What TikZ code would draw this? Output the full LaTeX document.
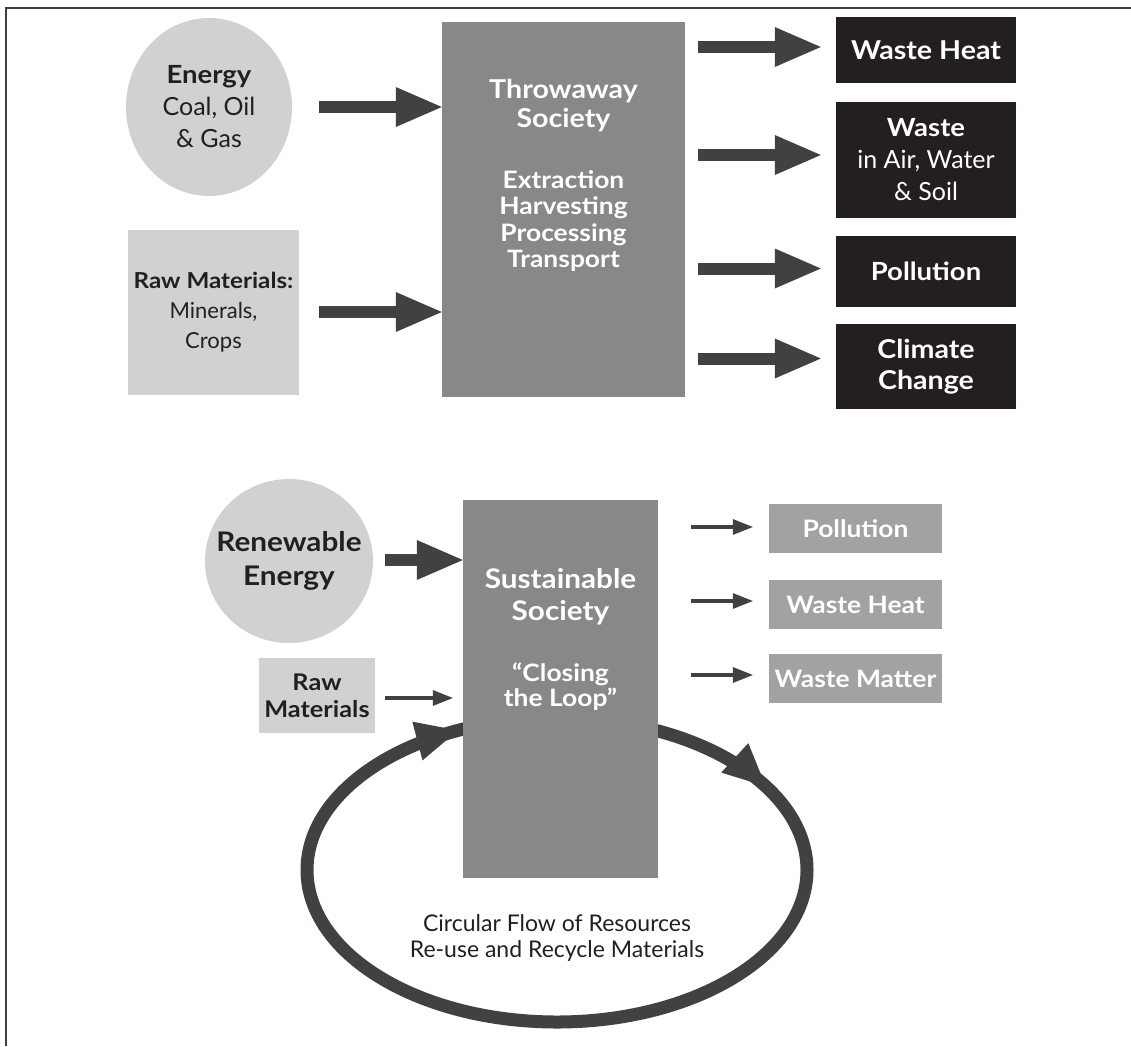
\documentclass[tikz,border=0pt]{standalone}
\usepackage{fontspec}
\setmainfont{Lato}[BoldFeatures={FakeStretch=1.1}]
\usetikzlibrary{shapes.geometric,arrows.meta,decorations.markings,calc}
\definecolor{lightg}{HTML}{D1D1D1}
\definecolor{midg}{HTML}{898886}
\definecolor{darkb}{HTML}{231F20}
\definecolor{arrowc}{HTML}{434140}
\definecolor{boxg}{HTML}{A3A2A1}
\definecolor{framec}{HTML}{3E3E3E}
\begin{document}
\begin{tikzpicture}[x=1pt,y=-1pt,
  lightell/.style={ellipse, fill=lightg, inner sep=0pt, align=center, text=darkb},
  lightbox/.style={rectangle, fill=lightg, inner sep=0pt, align=center, text=darkb},
  midbox/.style={rectangle, fill=midg, inner sep=0pt},
  intext/.style={text=white, align=center, inner sep=0pt},
  darktext/.style={text=darkb, align=center, inner sep=0pt},
  blackbox/.style={rectangle, fill=darkb, text=white, minimum width=180pt, inner sep=0pt, align=center, font=\bfseries\fontsize{26}{31}\selectfont},
  graybox/.style={rectangle, fill=boxg, text=white, minimum width=173pt, minimum height=49pt, inner sep=0pt, align=center, font=\bfseries\fontsize{24}{28}\selectfont},
  bigarrow/.style={draw=arrowc, line width=12pt, -{Triangle[length=46pt,width=40pt,line width=0pt]}},
  smallarrow/.style={draw=arrowc, line width=4pt, -{Triangle[length=20pt,width=16pt,line width=0pt]}},
  looptip/.style={arrowc},
  loopline/.style={draw=arrowc, line width=13pt}
]
\useasboundingbox (0,0) rectangle (1131,1046);

% frame
\draw[framec, line width=1.5pt] (1131,8) -- (6,8) -- (6,1046);

% ---------- upper part ----------
\node[lightell, minimum width=166pt, minimum height=178pt] (energy) at (209,107) {};
\node[darktext, font=\fontsize{25}{32}\selectfont] (energyt) at (energy.center) {\textbf{Energy}\\Coal, Oil\\\& Gas};
\node[lightbox, minimum width=171pt, minimum height=165pt, font=\fontsize{22}{30}\selectfont] (raw) at (213.5,312) {\textbf{Raw Materials:}\\Minerals,\\Crops};

\node[midbox, minimum width=243pt, minimum height=375pt] (throw) at (563.5,209.5) {};
\node[intext, font=\bfseries\fontsize{26}{29}\selectfont] (throwt) at (563.5,106) {Throwaway\\Society};
\node[intext, font=\bfseries\fontsize{24}{26.5}\selectfont] (throwp) at (563.5,221) {Extraction\\Harvesting\\Processing\\Transport};

\node[blackbox, minimum height=66pt] (wh) at (926,50) {Waste Heat};
\node[blackbox, minimum height=116pt, font=\fontsize{25}{32}\selectfont] (wa) at (926,160) {\textbf{Waste}\\in Air, Water\\\& Soil};
\node[blackbox, minimum height=71pt, font=\bfseries\fontsize{25}{31}\selectfont] (po) at (926,271.5) {Pollution};
\node[blackbox, minimum height=85pt] (cc) at (926,366.5) {Climate\\Change};

\draw[bigarrow] ($(energy.east)+(27,0)$) -- (throw.west |- energy.east);
\draw[bigarrow] ($(raw.east)+(20,0)$) -- (throw.west |- raw.east);

\draw[bigarrow] ($(throw.east |- wh.west)+(13,-3)$) -- ($(wh.west)+(-15,-3)$);
\draw[bigarrow] ($(throw.east |- wa.west)+(13,-5)$) -- ($(wa.west)+(-15,-5)$);
\draw[bigarrow] ($(throw.east |- po.west)+(13,-3)$) -- ($(po.west)+(-15,-3)$);
\draw[bigarrow] ($(throw.east |- cc.west)+(13,-8)$) -- ($(cc.west)+(-15,-8)$);

% ---------- lower part ----------
\draw[loopline, postaction={decorate}, decoration={markings,
   mark=at position 0.672 with {\arrow[looptip]{Triangle[length=42pt,width=40pt,line width=0pt]}},
   mark=at position 0.925 with {\arrow[looptip]{Triangle[length=42pt,width=40pt,line width=0pt]}}}]
   (557,870) ellipse [x radius=250, y radius=152];

\node[lightell, minimum width=168pt, minimum height=164pt] (renew) at (289,561) {};
\node[darktext, font=\bfseries\fontsize{27}{34}\selectfont] (renewt) at (renew.center) {Renewable\\Energy};
\node[midbox, minimum width=195pt, minimum height=378pt] (sust) at (560.5,689) {};
\node[intext, font=\bfseries\fontsize{27}{32}\selectfont] (sustt) at (560.5,597) {Sustainable\\Society};
\node[intext, font=\bfseries\fontsize{24}{25}\selectfont] (loopt) at (560.5,687) {“Closing\\the Loop”};
\node[lightbox, minimum width=116pt, minimum height=75pt, font=\bfseries\fontsize{23}{27}\selectfont] (raw2) at (317,695.5) {Raw\\Materials};

\node[graybox] (gpo) at (855.5,528.5) {Pollution};
\node[graybox] (gwh) at (855.5,604.5) {Waste Heat};
\node[graybox] (gwm) at (855.5,678.5) {Waste Matter};

\draw[bigarrow] ($(renew.east)+(12,-1)$) -- ($(sust.west |- renew.east)+(0,-1)$);
\draw[smallarrow] ($(raw2.east)+(10,2.5)$) -- ($(sust.west |- raw2.east)+(-10,2.5)$);
\draw[smallarrow] ($(sust.east |- gpo.west)+(33,-1.5)$) -- ($(gpo.west)+(-16,-1.5)$);
\draw[smallarrow] ($(sust.east |- gwh.west)+(33,-3.5)$) -- ($(gwh.west)+(-16,-3.5)$);
\draw[smallarrow] ($(sust.east |- gwm.west)+(33,-3.5)$) -- ($(gwm.west)+(-16,-3.5)$);

\node[darktext, font=\fontsize{23}{26}\selectfont] (circ) at (557,938) {Circular Flow of Resources\\Re-use and Recycle Materials};
\end{tikzpicture}
\end{document}
